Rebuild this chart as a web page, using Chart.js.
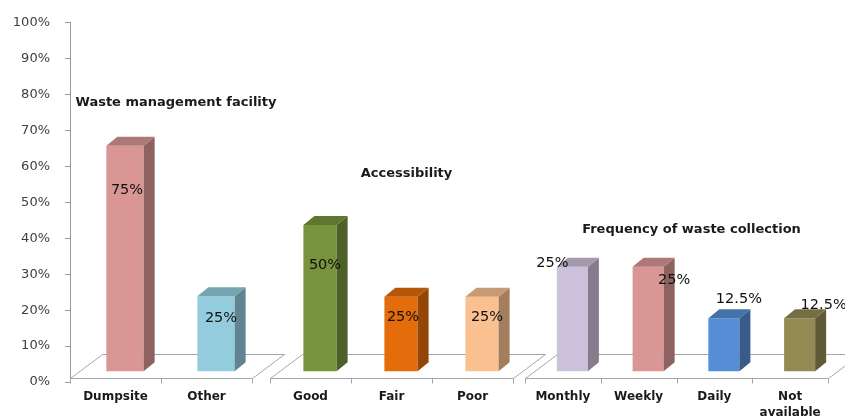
<!DOCTYPE html>
<html>
<head>
<meta charset="utf-8">
<script src="https://cdn.jsdelivr.net/npm/chart.js@4/dist/chart.umd.min.js"></script>
<style>
  html, body { margin: 0; padding: 0; background: #ffffff; }
  #wrap { position: relative; width: 845px; height: 417px; overflow: hidden; background: #ffffff; }
  canvas { position: absolute; top: 0; }
</style>
</head>
<body>
<div id="wrap">
  <canvas id="c1" width="300" height="417" style="left:0px"></canvas>
  <canvas id="c2" width="300" height="417" style="left:260px"></canvas>
  <canvas id="c3" width="330" height="417" style="left:515px"></canvas>
</div>
<script>
// ---------------- DATA ----------------
const yTickLabels = ['0%','10%','20%','30%','40%','50%','60%','70%','80%','90%','100%'];

const wasteTitle = 'Waste management facility';
const wasteCategories = ['Dumpsite', 'Other'];
const wasteValues = [65.8, 23.9];          // visible bar heights (%)
const wasteLabels = ['75%', '25%'];        // printed labels

const accessTitle = 'Accessibility';
const accessCategories = ['Good', 'Fair', 'Poor'];
const accessValues = [43.6, 23.7, 23.7];
const accessLabels = ['50%', '25%', '25%'];

const freqTitle = 'Frequency of waste collection';
const freqCategories = ['Monthly', 'Weekly', 'Daily', ['Not', 'available']];
const freqValues = [32.0, 32.0, 17.7, 17.7];
const freqLabels = ['25%', '25%', '12.5%', '12.5%'];

// ---------------- STYLE ----------------
const FONT = "'DejaVu Sans', Verdana, sans-serif";
const TEXT = '#1a1a1a';
const LINE = '#A6A6A6';
const wasteColors = ['#D99694', '#93CDDD'];
const accessColors = ['#77933C', '#E46C0A', '#FAC090'];
const freqColors = ['#CCC1DA', '#D99694', '#558ED5', '#948A54'];

// label offsets relative to the bar front face (centre x, top y)
const wasteLabelOffsets = [[2, 45], [5, 22]];
const accessLabelOffsets = [[5, 40], [2, 21], [5, 21]];
const freqLabelOffsets = [[-20, -4], [26, 13], [15, -19], [24, -13]];

function shade(hex, f) {
  const n = parseInt(hex.slice(1), 16);
  const r = Math.round(((n >> 16) & 255) * f);
  const g = Math.round(((n >> 8) & 255) * f);
  const b = Math.round((n & 255) * f);
  return `rgb(${r},${g},${b})`;
}

const BAR_SHIFT = 9.5;   // perspective shift of bars behind the floor front edge
const DEPTH_X = 11, DEPTH_Y = 9;       // bar depth
const FLOOR_DX = 32, FLOOR_DY = 24;    // floor depth

const threeD = {
  id: 'threeD',
  beforeDatasetsDraw(chart) {
    const { ctx, chartArea: a, scales: { x, y } } = chart;
    const n = chart.data.labels.length;
    const front = Math.round(y.getPixelForValue(0) - 4) + 0.5;
    const back = front - FLOOR_DY;
    const L = Math.round(a.left) + 0.5, R = Math.round(a.right) + 0.5;
    ctx.save();
    ctx.strokeStyle = LINE;
    ctx.lineWidth = 1;
    ctx.beginPath();
    ctx.moveTo(L, front);
    ctx.lineTo(R, front);
    ctx.lineTo(R + FLOOR_DX, back);
    ctx.lineTo(L + FLOOR_DX, back);
    ctx.closePath();
    ctx.stroke();
    // category boundary ticks on the floor front edge
    ctx.beginPath();
    for (let i = 0; i <= n; i++) {
      let xx;
      if (i === 0) xx = a.left;
      else if (i === n) xx = a.right;
      else xx = (x.getPixelForValue(i - 1) + x.getPixelForValue(i)) / 2;
      xx = Math.round(xx) + 0.5;
      ctx.moveTo(xx, front);
      ctx.lineTo(xx, front + 5);
    }
    ctx.stroke();
    ctx.restore();
    ctx.save();
    ctx.translate(BAR_SHIFT, 0);
  },
  afterDatasetsDraw(chart, args, opts) {
    const { ctx } = chart;
    const meta = chart.getDatasetMeta(0);
    const colors = chart.data.datasets[0].backgroundColor;
    meta.data.forEach((bar, i) => {
      const { x, y, base, width } = bar.getProps(['x', 'y', 'base', 'width'], true);
      const l = x - width / 2, r = x + width / 2;
      // side
      ctx.fillStyle = shade(colors[i], 0.65);
      ctx.beginPath();
      ctx.moveTo(r, base);
      ctx.lineTo(r, y);
      ctx.lineTo(r + DEPTH_X, y - DEPTH_Y);
      ctx.lineTo(r + DEPTH_X, base - DEPTH_Y);
      ctx.closePath();
      ctx.fill();
      // top
      ctx.fillStyle = shade(colors[i], 0.8);
      ctx.beginPath();
      ctx.moveTo(l, y);
      ctx.lineTo(r, y);
      ctx.lineTo(r + DEPTH_X, y - DEPTH_Y);
      ctx.lineTo(l + DEPTH_X, y - DEPTH_Y);
      ctx.closePath();
      ctx.fill();
    });
    // value labels
    ctx.fillStyle = '#111111';
    ctx.font = `14.5px ${FONT}`;
    ctx.textAlign = 'center';
    ctx.textBaseline = 'middle';
    meta.data.forEach((bar, i) => {
      const { x, y } = bar.getProps(['x', 'y'], true);
      const off = opts.offsets[i];
      ctx.fillText(opts.labels[i], x + off[0], y + off[1]);
    });
    ctx.restore();
  },
  afterDraw(chart, args, opts) {
    const { ctx, chartArea: a, scales: { y } } = chart;
    ctx.save();
    ctx.fillStyle = TEXT;
    ctx.font = `bold 13px ${FONT}`;
    ctx.textAlign = 'center';
    ctx.textBaseline = 'middle';
    ctx.fillText(opts.title, (a.left + a.right) / 2 + 15, y.getPixelForValue(opts.titleValue));
    ctx.restore();
  }
};

function makeChart(id, cats, vals, labels, colors, offsets, title, titleValue, padL, padR, showY) {
  return new Chart(document.getElementById(id), {
    type: 'bar',
    data: {
      labels: cats,
      datasets: [{
        data: vals,
        backgroundColor: colors,
        base: 3,
        barPercentage: 0.82,
        categoryPercentage: 0.5,
        borderWidth: 0
      }]
    },
    options: {
      responsive: false,
      animation: false,
      events: [],
      layout: { padding: { left: padL, right: padR, top: 22, bottom: 0 } },
      plugins: {
        legend: { display: false },
        tooltip: { enabled: false },
        threeD: { labels: labels, offsets: offsets, title: title, titleValue: titleValue }
      },
      scales: {
        x: {
          grid: { display: false, drawTicks: false },
          border: { display: false },
          ticks: {
            color: TEXT,
            font: { family: FONT, size: 12, weight: 'bold', lineHeight: 1.3 },
            padding: 7,
            maxRotation: 0,
            autoSkip: false
          },
          afterFit: s => { s.height = 35; }
        },
        y: {
          display: showY,
          min: 0,
          max: 100,
          ticks: {
            stepSize: 10,
            color: '#404040',
            font: { family: FONT, size: 13 },
            padding: 15,
            callback: (v, i) => yTickLabels[i]
          },
          grid: { drawOnChartArea: false, tickLength: 5, color: '#999999' },
          border: { color: '#999999' },
          afterFit: s => { s.width = showY ? 70 : 0; }
        }
      }
    },
    plugins: [threeD]
  });
}

makeChart('c1', wasteCategories, wasteValues, wasteLabels, wasteColors, wasteLabelOffsets, wasteTitle, 77.8, 0, 48, true);
makeChart('c2', accessCategories, accessValues, accessLabels, accessColors, accessLabelOffsets, accessTitle, 57.8, 10, 47, false);
makeChart('c3', freqCategories, freqValues, freqLabels, freqColors, freqLabelOffsets, freqTitle, 42.2, 10, 17, false);
</script>
</body>
</html>
